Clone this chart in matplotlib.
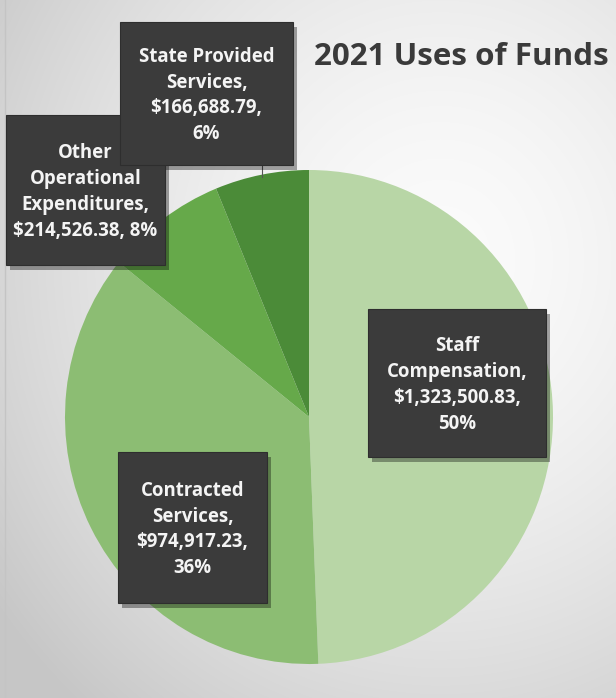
import numpy as np
import matplotlib.pyplot as plt
from matplotlib.patches import Rectangle

plt.rcParams['font.family'] = ['Open Sans', 'DejaVu Sans']

# data
categories = ['Staff\nCompensation', 'Contracted\nServices',
              'Other\nOperational\nExpenditures', 'State Provided\nServices']
amounts = [1323500.83, 974917.23, 214526.38, 166688.79]
pct_labels = ['50%', '36%', '8%', '6%']
colors = ['#b8d6a6', '#8cbd73', '#66a94a', '#4b8b38']
title = '2021 Uses of Funds'

W, H = 616, 698
fig = plt.figure(figsize=(W / 100, H / 100), dpi=100)

# background (pixel coordinates)
bg = fig.add_axes([0, 0, 1, 1])
bg.set_xlim(0, W)
bg.set_ylim(H, 0)
bg.axis('off')
yy, xx = np.mgrid[0:H, 0:W]
d = np.sqrt(((xx - 440) / 520.0) ** 2 + ((yy - 260) / 560.0) ** 2)
shade = np.clip(0.985 - 0.19 * d ** 1.6, 0.78, 1)
bg.imshow(np.dstack([shade] * 3), extent=(0, W, H, 0), aspect='auto', zorder=0)
bg.plot([5, 5], [0, H], color='#c4c4c4', lw=1, zorder=1)

# pie
cx, cy, rx, ry = 309, 417, 244, 247
ax = fig.add_axes([(cx - rx) / W, 1 - (cy + ry) / H, 2 * rx / W, 2 * ry / H])
ax.pie(amounts, colors=colors, startangle=90, counterclock=False, radius=1,
       wedgeprops=dict(linewidth=0))
ax.set_aspect('auto')
ax.set_xlim(-1, 1)
ax.set_ylim(-1, 1)
ax.patch.set_alpha(0)

# labels
top = fig.add_axes([0, 0, 1, 1])
top.set_xlim(0, W)
top.set_ylim(H, 0)
top.axis('off')
top.patch.set_alpha(0)

# box x0, y0, x1, y1 in pixels for each category
boxes = [(368, 309, 546, 457), (118, 452, 267, 603),
         (6, 115, 165, 265), (120, 22, 293, 165)]
texts = []
for c, a, p in zip(categories, amounts, pct_labels):
    sep = ' ' if c.startswith('Other') else '\n'
    texts.append('%s,\n\\$%s,%s%s' % (c, format(a, ',.2f'), sep, p))

top.plot([262, 262], [165, 177], color='#555555', lw=0.8, zorder=2)
order = [2, 3, 0, 1]
for i in order:
    x0, y0, x1, y1 = boxes[i]
    top.add_patch(Rectangle((x0 + 4, y0 + 5), x1 - x0, y1 - y0,
                            facecolor='black', alpha=0.35, lw=0, zorder=3))
    top.add_patch(Rectangle((x0, y0), x1 - x0, y1 - y0,
                            facecolor='#3b3b3b', edgecolor='#2e2e2e', lw=0.8, zorder=4))
    top.text((x0 + x1) / 2, (y0 + y1) / 2 + 2, texts[i],
             ha='center', va='center', color='#f4f4f4', fontsize=13.4,
             fontweight='bold', linespacing=1.38, zorder=5)

top.text(461, 57, title, ha='center', va='center', fontsize=22.6,
         fontweight='bold', color='#3a3a3a', zorder=5)

fig.savefig('out.png', dpi=100)
